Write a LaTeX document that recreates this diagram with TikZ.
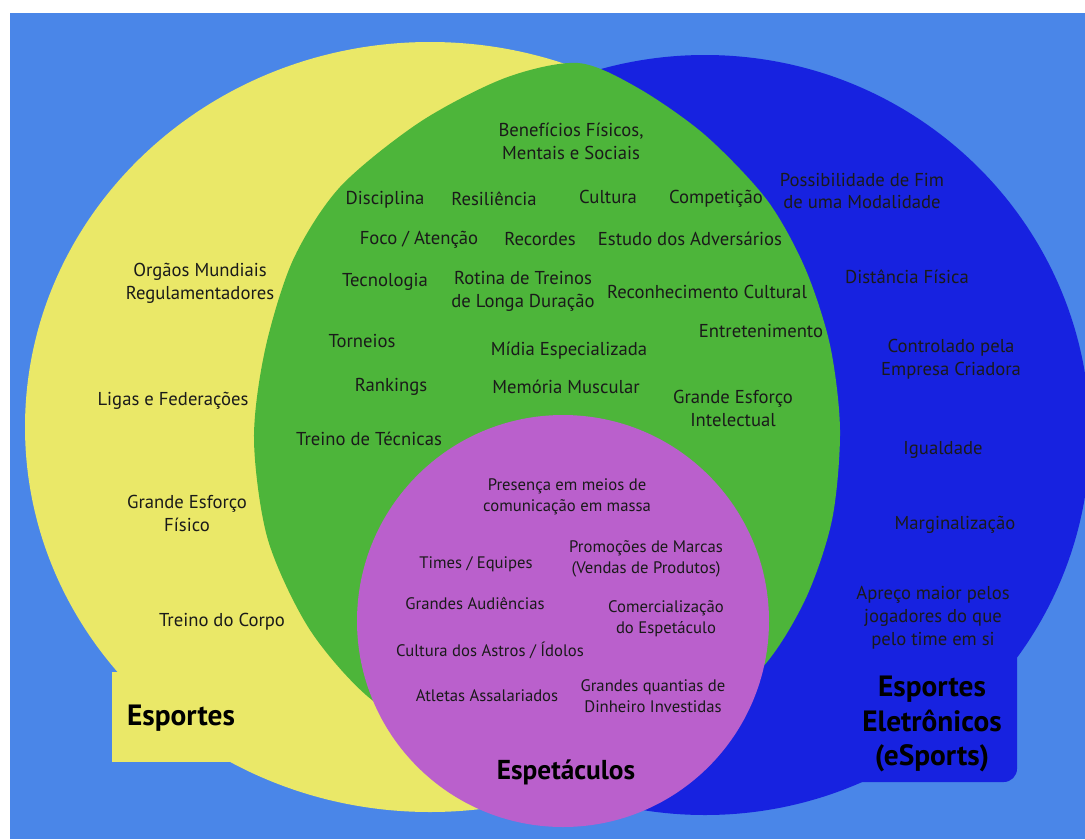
\documentclass[tikz,border=0pt]{standalone}
\usepackage{fontspec}
\setmainfont{PT Sans}
\usetikzlibrary{positioning}

\definecolor{fundo}{HTML}{4A86E8}
\definecolor{amarelo}{HTML}{EAE868}
\definecolor{verde}{HTML}{4DB53A}
\definecolor{azul}{HTML}{1722E0}
\definecolor{roxo}{HTML}{BA60CC}
\definecolor{texto}{HTML}{1A1A1A}

\tikzstyle{item} = [text=texto, align=center, inner sep=0pt, font=\fontsize{14}{17.2}\selectfont]
\tikzstyle{itemsm} = [text=texto, align=center, inner sep=0pt, font=\fontsize{12.5}{15.5}\selectfont]
\tikzstyle{titulo} = [text=black, align=center, inner sep=0pt, font=\fontsize{22}{26}\selectfont\bfseries]

\begin{document}
\begin{tikzpicture}[x=0.75pt, y=-0.75pt]
	
	\useasboundingbox (0,0) rectangle (1085,839);
	\fill[white] (0,0) rectangle (1085,839);
	\fill[fundo] (10,13) rectangle (1085,839);
	
	% conjuntos
	\fill[amarelo] (430,427) ellipse [x radius=405, y radius=385];
	\fill[amarelo] (112,672) rectangle (240,762);
	\fill[azul] (705,435) ellipse [x radius=385, y radius=380];
	\fill[azul, rounded corners=10] (845,645) rectangle (1017,782);
	\fill[verde] plot[smooth cycle] coordinates {(578,63) (638,88) (705,135) (767,200) (805,268) (830,345) (840,430) (832,520) (805,600) (760,670) (680,730) (560,750) (450,740) (372,700) (310,630) (268,540) (254,440) (265,350) (293,260) (340,187) (420,122) (505,78)};
	\fill[roxo] (563,621) circle (206);
	
	% intersecao esportes / esports
	\node (beneficios) [item] at (571,141) {Benefícios Físicos,\\Mentais e Sociais};
	\node (disciplina) [item] at (385,200) {Disciplina};
	\node (resiliencia) [item] at (494,199) {Resiliência};
	\node (cultura) [item] at (608,197) {Cultura};
	\node (competicao) [item] at (716,199) {Competição};
	\node (foco) [item] at (419,240) {Foco / Atenção};
	\node (recordes) [item] at (540,239) {Recordes};
	\node (estudo) [item] at (690,239) {Estudo dos Adversários};
	\node (tecnologia) [item] at (385,282) {Tecnologia};
	\node (rotina) [item] at (523,291) {Rotina de Treinos\\de Longa Duração};
	\node (reconhecimento) [item] at (707,292) {Reconhecimento Cultural};
	\node (entretenimento) [item] at (761,331) {Entretenimento};
	\node (torneios) [item] at (362,341) {Torneios};
	\node (midia) [item] at (569,351) {Mídia Especializada};
	\node (rankings) [item] at (391,387) {Rankings};
	\node (memoria) [item] at (566,387) {Memória Muscular};
	\node (intelectual) [item] at (733,408) {Grande Esforço\\Intelectual};
	\node (tecnicas) [item] at (369,439) {Treino de Técnicas};
	
	% esportes
	\node (orgaos) [item] at (200,283) {Orgãos Mundiais\\Regulamentadores};
	\node (ligas) [item] at (173,401) {Ligas e Federações};
	\node (fisico) [item] at (187,513) {Grande Esforço\\Físico};
	\node (corpo) [item] at (222,622) {Treino do Corpo};
	\node (esportes) [titulo] at (181,718) {Esportes};
	
	% esports
	\node (fim) [item] at (862,191) {Possibilidade de Fim\\de uma Modalidade};
	\node (distancia) [item] at (907,277) {Distância Física};
	\node (controlado) [item] at (951,359) {Controlado pela\\Empresa Criadora};
	\node (igualdade) [item] at (943,450) {Igualdade};
	\node (marginal) [item] at (955,525) {Marginalização};
	\node (apreco) [item] at (933,618) {Apreço maior pelos\\jogadores do que\\pelo time em si};
	\node (esports) [titulo] at (932,724) {Esportes\\Eletrônicos\\(eSports)};
	
	% espetaculos
	\node (presenca) [itemsm] at (567,497) {Presença em meios de\\comunicação em massa};
	\node (times) [itemsm] at (476,564) {Times / Equipes};
	\node (promocoes) [itemsm] at (646,559) {Promoções de Marcas\\(Vendas de Produtos)};
	\node (audiencias) [itemsm] at (475,603) {Grandes Audiências};
	\node (comercial) [itemsm] at (666,619) {Comercialização\\do Espetáculo};
	\node (astros) [itemsm] at (490,650) {Cultura dos Astros / Ídolos};
	\node (atletas) [itemsm] at (487,696) {Atletas Assalariados};
	\node (dinheiro) [itemsm] at (653,696) {Grandes quantias de\\Dinheiro Investidas};
	\node (espetaculos) [titulo, font=\fontsize{20.5}{26}\selectfont\bfseries] at (566,772) {Espetáculos};
	
\end{tikzpicture}
\end{document}
